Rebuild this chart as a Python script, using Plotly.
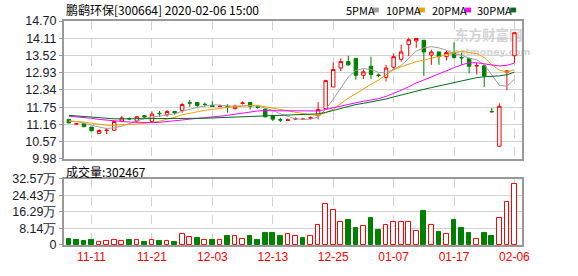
import plotly.graph_objects as go

# ---------------- data ----------------
dates = ["11-06", "11-07", "11-08", "11-11", "11-12", "11-13", "11-14", "11-15", "11-18", "11-19",
         "11-20", "11-21", "11-22", "11-25", "11-26", "11-27", "11-28", "11-29", "12-02", "12-03",
         "12-04", "12-05", "12-06", "12-09", "12-10", "12-11", "12-12", "12-13", "12-16", "12-17",
         "12-18", "12-19", "12-20", "12-23", "12-24", "12-25", "12-26", "12-27", "12-30", "12-31",
         "01-02", "01-03", "01-06", "01-07", "01-08", "01-09", "01-10", "01-13", "01-14", "01-15",
         "01-16", "01-17", "01-20", "01-21", "01-22", "01-23", "02-03", "02-04", "02-05", "02-06"]

opens = [11.33, 11.17, 11.19, 11.07, 10.85, 10.95, 10.96, 11.27, 11.36, 11.28,
         11.46, 11.26, 11.54, 11.49, 11.60, 11.64, 11.90, 11.91, 11.85, 11.81,
         11.77, 11.77, 11.70, 11.88, 11.91, 11.76, 11.68, 11.46, 11.32, 11.30,
         11.34, 11.33, 11.37, 11.46, 11.70, 12.44, 13.09, 13.31, 13.42, 12.84,
         13.15, 12.85, 12.77, 13.12, 13.39, 13.89, 14.02, 14.04, 13.53, 13.64,
         13.48, 13.61, 13.45, 13.42, 13.16, 13.17, 11.60, 10.41, 12.95, 13.51]
closes = [11.21, 11.18, 11.08, 10.94, 10.95, 10.96, 11.26, 11.38, 11.35, 11.42,
          11.41, 11.51, 11.53, 11.60, 11.56, 11.84, 11.89, 11.81, 11.84, 11.77,
          11.78, 11.76, 11.78, 11.89, 11.78, 11.75, 11.42, 11.34, 11.31, 11.31,
          11.36, 11.34, 11.39, 11.67, 12.66, 13.04, 13.31, 13.20, 12.84, 12.96,
          12.87, 12.84, 13.09, 13.48, 13.64, 14.06, 14.10, 13.64, 13.64, 13.48,
          13.62, 13.45, 13.44, 13.15, 13.17, 12.82, 11.59, 11.78, 12.99, 14.30]
highs = [11.35, 11.21, 11.21, 11.07, 10.99, 11.04, 11.28, 11.45, 11.40, 11.45,
         11.47, 11.60, 11.62, 11.65, 11.62, 11.89, 12.00, 11.92, 11.91, 11.95,
         11.84, 11.85, 11.84, 11.95, 11.92, 11.80, 11.72, 11.48, 11.38, 11.36,
         11.40, 11.38, 11.43, 11.92, 12.69, 13.28, 13.42, 13.51, 13.42, 13.04,
         13.48, 12.90, 13.20, 13.59, 13.89, 14.13, 14.12, 14.04, 13.72, 13.64,
         13.69, 13.97, 13.61, 13.42, 13.26, 13.20, 11.72, 11.88, 12.99, 14.30]
lows = [11.20, 11.14, 11.08, 10.93, 10.84, 10.83, 10.93, 11.24, 11.30, 11.22,
        11.40, 11.25, 11.42, 11.42, 11.49, 11.56, 11.76, 11.73, 11.76, 11.76,
        11.76, 11.56, 11.67, 11.84, 11.67, 11.70, 11.40, 11.27, 11.24, 11.28,
        11.31, 11.31, 11.33, 11.33, 11.70, 12.44, 12.99, 13.17, 12.69, 12.71,
        12.71, 12.78, 12.63, 13.04, 13.31, 13.50, 13.78, 12.82, 13.20, 13.20,
        13.35, 13.42, 13.20, 12.91, 12.87, 12.44, 11.59, 10.41, 12.33, 13.26]

ma5 = [11.28, 11.26, 11.20, 11.13, 11.07, 11.02, 11.04, 11.10, 11.18, 11.27,
       11.36, 11.41, 11.44, 11.49, 11.52, 11.61, 11.68, 11.74, 11.79, 11.83,
       11.82, 11.79, 11.79, 11.80, 11.80, 11.79, 11.72, 11.64, 11.52, 11.43,
       11.35, 11.33, 11.34, 11.41, 11.68, 12.02, 12.41, 12.78, 13.01, 13.07,
       13.04, 12.94, 12.92, 13.05, 13.18, 13.42, 13.67, 13.78, 13.82, 13.78,
       13.70, 13.57, 13.53, 13.43, 13.37, 13.21, 12.84, 12.50, 12.47, 12.70]
ma10 = [11.27, 11.26, 11.24, 11.20, 11.16, 11.13, 11.13, 11.14, 11.15, 11.17,
        11.19, 11.23, 11.27, 11.34, 11.40, 11.49, 11.55, 11.59, 11.64, 11.68,
        11.71, 11.74, 11.76, 11.79, 11.81, 11.81, 11.76, 11.71, 11.66, 11.61,
        11.57, 11.53, 11.49, 11.47, 11.56, 11.68, 11.87, 12.06, 12.21, 12.38,
        12.53, 12.68, 12.85, 13.03, 13.13, 13.23, 13.31, 13.35, 13.43, 13.48,
        13.56, 13.62, 13.66, 13.62, 13.58, 13.45, 13.20, 13.02, 12.95, 13.03]
ma20 = [11.44, 11.42, 11.40, 11.37, 11.33, 11.30, 11.28, 11.26, 11.24, 11.23,
        11.22, 11.22, 11.23, 11.25, 11.28, 11.31, 11.34, 11.36, 11.38, 11.41,
        11.44, 11.47, 11.51, 11.55, 11.59, 11.62, 11.63, 11.63, 11.63, 11.63,
        11.63, 11.62, 11.62, 11.62, 11.67, 11.73, 11.80, 11.86, 11.90, 11.95,
        11.99, 12.04, 12.12, 12.22, 12.33, 12.45, 12.58, 12.68, 12.79, 12.90,
        13.00, 13.10, 13.20, 13.27, 13.27, 13.23, 13.18, 13.16, 13.18, 13.26]
ma30 = [11.47, 11.45, 11.42, 11.39, 11.37, 11.36, 11.35, 11.35, 11.35, 11.35,
        11.35, 11.35, 11.35, 11.35, 11.35, 11.36, 11.36, 11.37, 11.37, 11.38,
        11.39, 11.40, 11.41, 11.42, 11.43, 11.44, 11.45, 11.46, 11.47, 11.48,
        11.49, 11.49, 11.50, 11.52, 11.57, 11.64, 11.72, 11.79, 11.84, 11.88,
        11.93, 11.97, 12.03, 12.10, 12.17, 12.24, 12.30, 12.36, 12.42, 12.48,
        12.54, 12.60, 12.66, 12.71, 12.76, 12.79, 12.80, 12.82, 12.86, 12.95]

volume_wan = [2.83, 2.36, 1.89, 2.36, 1.42, 1.89, 2.67, 1.89, 2.36, 2.36,
              1.57, 2.36, 2.04, 1.89, 1.57, 5.50, 3.78, 3.30, 2.36, 2.36,
              2.36, 4.25, 4.70, 2.83, 4.25, 2.36, 6.10, 5.80, 4.25, 5.50,
              4.56, 3.30, 4.56, 9.75, 20.10, 17.30, 11.60, 12.60, 8.50, 9.30,
              13.20, 7.55, 9.75, 11.20, 11.60, 11.20, 6.90, 16.80, 9.75, 6.60,
              5.50, 12.60, 8.50, 6.10, 3.15, 5.70, 4.70, 13.50, 21.10, 30.2467]
volume_up = [0, 0, 0, 0, 1, 1, 1, 1, 0, 1,
             0, 1, 0, 1, 0, 1, 1, 0, 1, 0,
             1, 0, 1, 1, 0, 0, 0, 0, 0, 1,
             1, 0, 1, 1, 1, 1, 1, 0, 0, 1,
             0, 0, 1, 1, 1, 1, 1, 0, 1, 0,
             1, 0, 0, 0, 1, 0, 0, 1, 1, 1]

price_ticks = [9.98, 10.57, 11.16, 11.75, 12.34, 12.93, 13.52, 14.11, 14.70]
vol_ticks = [0, 8.14, 16.29, 24.43, 32.57]
vol_tick_labels = ["0", "8.14万", "16.29万", "24.43万", "32.57万"]
date_ticks = ["11-11", "11-21", "12-03", "12-13", "12-25", "01-07", "01-17", "02-06"]
ma_names = ["5PMA", "10PMA", "20PMA", "30PMA"]
title_text = "鹏鹞环保[300664] 2020-02-06 15:00"
vol_title = "成交量:302467"
watermark_cn = "东方财富网"
watermark_en = "eastmoney.com"

# ---------------- styling / layout helpers ----------------
W, H = 578, 276
L, R, T, B = 55, 522, 21, 255
RED, GREEN = "#ff0000", "#008000"
ma_colors = ["#a0a0a0", "#f0a000", "#ff00ff", "#006e1e"]
FRAME = "#999999"
GRID = "#d2d2d2"
NUMFONT = "Liberation Sans"
CJK = "Noto Sans CJK SC"


def fx(px):
    return (px - L) / (R - L)


def fy(py):
    return (B - py) / (B - T)


fig = go.Figure()

fig.add_trace(go.Candlestick(
    x=dates, open=opens, high=highs, low=lows, close=closes,
    increasing=dict(line=dict(color=RED, width=1), fillcolor="#ffffff"),
    decreasing=dict(line=dict(color=GREEN, width=1), fillcolor=GREEN),
    whiskerwidth=0, xaxis="x", yaxis="y", showlegend=False, hoverinfo="skip"))

for vals, col in zip([ma5, ma10, ma20, ma30], ma_colors):
    fig.add_trace(go.Scatter(x=dates, y=vals, mode="lines",
                             line=dict(color=col, width=1),
                             xaxis="x", yaxis="y", showlegend=False, hoverinfo="skip"))

fig.add_trace(go.Bar(
    x=dates, y=volume_wan, width=0.62,
    marker=dict(color=["#ffffff" if u else GREEN for u in volume_up],
                line=dict(color=[RED if u else GREEN for u in volume_up], width=1)),
    xaxis="x2", yaxis="y2", showlegend=False, hoverinfo="skip"))

common_x = dict(type="category", categoryorder="array", categoryarray=dates,
                range=[-0.65, len(dates) - 0.0], tickvals=date_ticks,
                showgrid=True, gridcolor=GRID, griddash="dash", gridwidth=1,
                showline=True, mirror=True, linecolor=FRAME, linewidth=2,
                zeroline=False, ticks="", fixedrange=True)

fig.update_layout(
    width=W, height=H,
    margin=dict(l=L, r=W - R, t=T, b=H - B, pad=0),
    paper_bgcolor="#ffffff", plot_bgcolor="#ffffff",
    boxgap=0.35, bargap=0,
    showlegend=False,
    xaxis=dict(domain=[0, 1], anchor="y", showticklabels=False,
               rangeslider=dict(visible=False), **common_x),
    xaxis2=dict(domain=[0, 1], anchor="y2", showticklabels=True,
                tickfont=dict(family=NUMFONT, size=12, color="#ff0000"),
                **common_x),
    yaxis=dict(domain=[fy(165), 1], range=[9.98, 14.70], tickvals=price_ticks,
               tickformat=".2f", showgrid=True, gridcolor=GRID, gridwidth=1,
               showline=True, mirror=True, linecolor=FRAME, linewidth=2,
               ticks="outside", ticklen=3, tickcolor=FRAME, zeroline=False,
               tickfont=dict(family=NUMFONT, size=12.5, color="#1a1a2a")),
    yaxis2=dict(domain=[0, fy(186)], range=[0, 32.57], tickvals=vol_ticks,
                ticktext=vol_tick_labels, showgrid=True, gridcolor=GRID, gridwidth=1,
                showline=True, mirror=True, linecolor=FRAME, linewidth=2,
                ticks="outside", ticklen=3, tickcolor=FRAME, zeroline=False,
                tickfont=dict(family=NUMFONT, size=12.5, color="#1a1a2a")),
)

annotations = [
    dict(text=title_text, x=fx(55), y=fy(9.5), xref="paper", yref="paper",
         xanchor="left", yanchor="middle", showarrow=False,
         font=dict(family=CJK, size=12, color="#000000")),
    dict(text=vol_title, x=fx(55), y=fy(178), xref="paper", yref="paper",
         xanchor="left", yanchor="middle", showarrow=False,
         font=dict(family=CJK, size=12, color="#000000")),
]
shapes = []
legend_x = [340, 381, 428, 474]
for name, col, lx in zip(ma_names, ma_colors, legend_x):
    annotations.append(dict(text=name, x=fx(lx), y=fy(9.5), xref="paper", yref="paper",
                            xanchor="left", yanchor="middle", showarrow=False,
                            font=dict(family=CJK, size=11, color="#000000")))
    sq = lx + 30 if name == "5PMA" else lx + 36
    shapes.append(dict(type="rect", xref="paper", yref="paper",
                       x0=fx(sq), x1=fx(sq + 6), y0=fy(12), y1=fy(7),
                       line=dict(width=0), fillcolor=col))

# watermark behind data
shapes.append(dict(type="rect", xref="paper", yref="paper", layer="between",
                   x0=fx(450), x1=fx(526), y0=fy(45), y1=fy(29),
                   line=dict(width=0), fillcolor="rgba(0,0,0,0)",
                   label=dict(text="<b>" + watermark_cn + "</b>", textposition="middle center",
                              font=dict(family=CJK, size=13.5, color="#d4d4d4"))))
shapes.append(dict(type="rect", xref="paper", yref="paper", layer="between",
                   x0=fx(450), x1=fx(526), y0=fy(57), y1=fy(47),
                   line=dict(width=0), fillcolor="rgba(0,0,0,0)",
                   label=dict(text="<b>" + watermark_en + "</b>", textposition="middle center",
                              font=dict(family="DejaVu Sans", size=9.5, color="#d4d4d4"))))

fig.update_layout(annotations=annotations, shapes=shapes)

fig.write_html("out.html")
